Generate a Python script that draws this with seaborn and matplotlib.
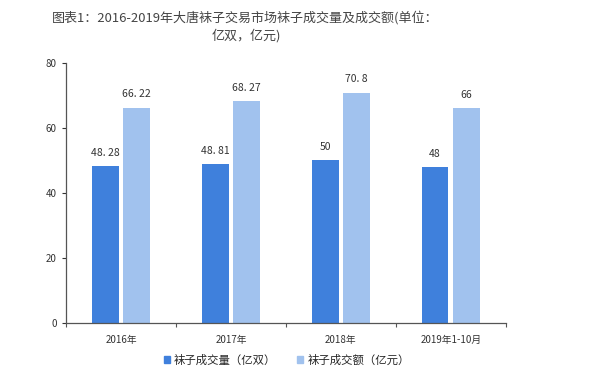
import seaborn as sns
import pandas as pd
import matplotlib.pyplot as plt

# data
years = ['2016年', '2017年', '2018年', '2019年1-10月']
volume = [48.28, 48.81, 50, 48]      # 亿双
turnover = [66.22, 68.27, 70.8, 66]  # 亿元
series = ['袜子成交量（亿双）', '袜子成交额（亿元）']
colors = ['#3F80DC', '#A1C2EE']

sns.set_theme(style='white')
plt.rcParams['font.family'] = ['Noto Sans CJK SC', 'DejaVu Sans']

df = pd.DataFrame({
    'year': years * 2,
    'value': volume + turnover,
    'series': [series[0]] * len(years) + [series[1]] * len(years),
})

fig = plt.figure(figsize=(6, 3.72), dpi=100)
ax = fig.add_axes([0.11, 0.132, 0.733, 0.699])

sns.barplot(df, x='year', y='value', hue='series', order=years, hue_order=series,
            palette=colors, width=0.57, gap=0.15, saturation=1, linewidth=0,
            legend=False, ax=ax)

# value labels like "48. 28"
for container in ax.containers:
    ax.bar_label(container, labels=[f'{v:g}'.replace('.', '. ') for v in container.datavalues],
                 padding=6, fontsize=7.5, color='#333333')

ax.set_xlim(-0.5, len(years) - 0.5)
ax.set_ylim(0, 80)
ax.set_yticks([0, 20, 40, 60, 80])
ax.set_xlabel('')
ax.set_ylabel('')
ax.tick_params(axis='both', labelsize=7, colors='#333333', length=3, width=0.8,
               direction='out', left=True, bottom=False)
ax.set_xticks(range(len(years)), years)
ax.set_xticks([i - 0.5 for i in range(len(years) + 1)], minor=True)
ax.tick_params(axis='x', which='minor', length=3, width=0.8, color='#555555', bottom=True)
ax.tick_params(axis='x', which='major', pad=6)
for s in ['top', 'right']:
    ax.spines[s].set_visible(False)
for s in ['left', 'bottom']:
    ax.spines[s].set_color('#555555')
    ax.spines[s].set_linewidth(0.9)

fig.text(0.408, 0.952, '图表1：2016-2019年大唐袜子交易市场袜子成交量及成交额(单位：',
         ha='center', va='center', fontsize=9.4, color='#444444')
fig.text(0.41, 0.905, '亿双，亿元)', ha='center', va='center', fontsize=9.4, color='#444444')

# legend under the plot
handles = [plt.Rectangle((0, 0), 1, 1, color=c) for c in colors]
fig.legend(handles, series, loc='center', bbox_to_anchor=(0.478, 0.032), ncol=2, frameon=False,
           fontsize=8.2, handlelength=0.5, handleheight=0.5, handletextpad=0.4, columnspacing=1.8)

fig.savefig('out.png', dpi=100)
